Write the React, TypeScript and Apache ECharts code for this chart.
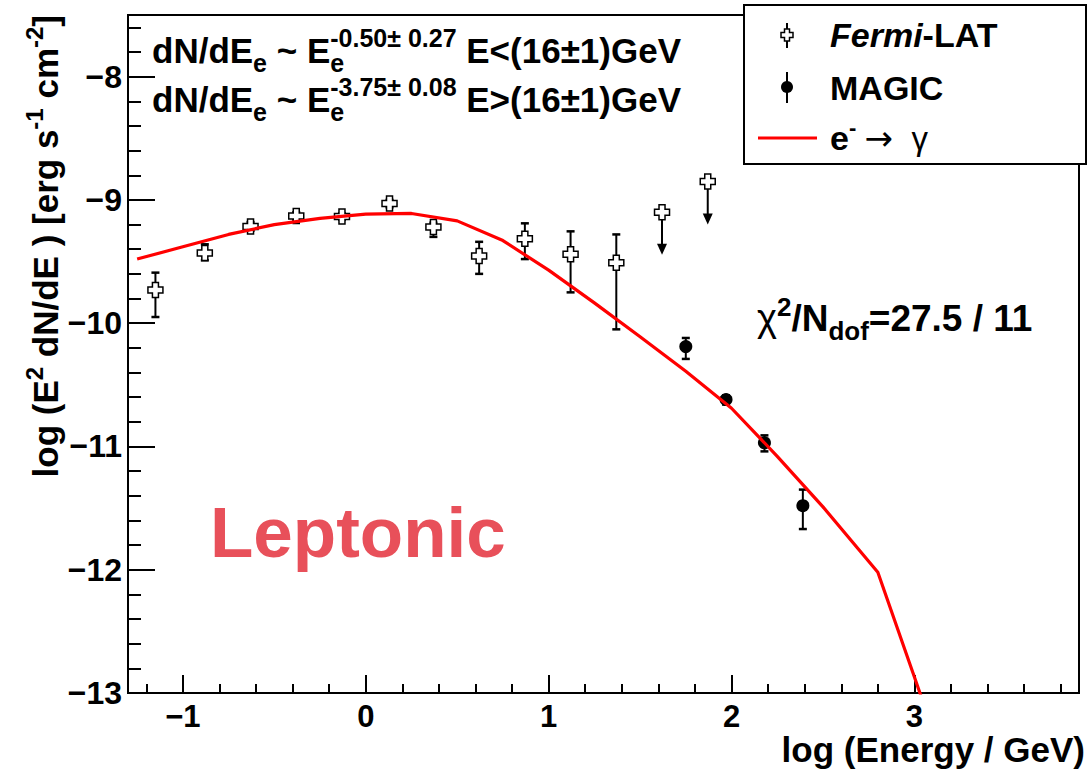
import React, { useEffect, useRef } from 'react';
import * as echarts from 'echarts';

// ---------------- data ----------------
const fermiX = [-1.15, -0.88, -0.63, -0.38, -0.13, 0.13, 0.37, 0.62, 0.87, 1.12, 1.37];
const fermiY = [-9.73, -9.43, -9.215, -9.13, -9.135, -9.03, -9.22, -9.455, -9.315, -9.44, -9.51];
const fermiLow = [-9.95, -9.49, -9.25, -9.16, -9.16, -9.06, -9.30, -9.60, -9.48, -9.75, -10.05];
const fermiHigh = [-9.59, -9.36, -9.18, -9.10, -9.11, -9.00, -9.185, -9.34, -9.19, -9.255, -9.28];

const fermiUlX = [1.62, 1.87];
const fermiUlY = [-9.1, -8.85];
const fermiUlTip = [-9.445, -9.2];

const magicX = [1.75, 1.97, 2.18, 2.39];
const magicY = [-10.19, -10.62, -10.97, -11.48];
const magicLow = [-10.29, -10.66, -11.04, -11.67];
const magicHigh = [-10.12, -10.585, -10.91, -11.35];

const modelX = [-1.25, -1.0, -0.75, -0.5, -0.25, 0.0, 0.25, 0.5, 0.75, 1.0, 1.25, 1.5, 1.75, 2.0, 2.25, 2.5, 2.8, 3.0, 3.1];
const modelY = [-9.48, -9.38, -9.28, -9.2, -9.15, -9.115, -9.11, -9.17, -9.33, -9.57, -9.835, -10.11, -10.39, -10.69, -11.08, -11.49, -12.02, -12.87, -13.3];

const xRange = [-1.3, 3.9];
const yRange = [-13, -7.5];

const FONT = "'Liberation Sans', Arial, Helvetica, sans-serif";

type Seg = {
  t: string;
  size: number;
  dy?: number;
  weight?: string;
  italic?: boolean;
  noAdvance?: boolean;
  fill?: string;
  family?: string;
  lh?: number;
};

let measureCtx: CanvasRenderingContext2D | null = null;
function measure(text: string, font: string) {
  if (!measureCtx) measureCtx = document.createElement('canvas').getContext('2d');
  measureCtx!.font = font;
  return measureCtx!.measureText(text).width;
}
function fontStr(s: Seg) {
  return `${s.italic ? 'italic ' : ''}${s.weight || 'bold'} ${s.size}px ${s.family || FONT}`;
}
function segWidth(segs: Seg[]) {
  let x = 0;
  let pending = 0;
  let pendingStart = -1;
  segs.forEach((s) => {
    const w = measure(s.t, fontStr(s));
    if (s.noAdvance) {
      pending = w;
      pendingStart = x;
    } else if (pendingStart >= 0) {
      x = pendingStart + Math.max(w, pending);
      pendingStart = -1;
    } else {
      x += w;
    }
  });
  return x;
}
function layoutSegs(segs: Seg[], x0: number, baseline: number, align: 'left' | 'right' = 'left', defFill = '#000') {
  const total = segWidth(segs);
  let x = align === 'right' ? x0 - total : x0;
  let pending = 0;
  let pendingStart = -1;
  const els: any[] = [];
  segs.forEach((s) => {
    const w = measure(s.t, fontStr(s));
    const startX = pendingStart >= 0 && !s.noAdvance ? pendingStart : x;
    const yb = baseline + (s.dy || 0);
    els.push({
      type: 'text',
      x: startX,
      y: yb - 0.3465 * s.size,
      style: {
        text: s.t,
        fontSize: s.size,
        fontWeight: s.weight || 'bold',
        fontStyle: s.italic ? 'italic' : 'normal',
        fontFamily: s.family || FONT,
        fill: s.fill || defFill,
        lineHeight: s.lh || Math.round(s.size * 0.9),
        align: 'left',
        verticalAlign: 'middle',
      },
    });
    if (s.noAdvance) {
      pending = w;
      pendingStart = x;
    } else if (pendingStart >= 0) {
      x = pendingStart + Math.max(w, pending);
      pendingStart = -1;
    } else {
      x += w;
    }
  });
  return els;
}

function crossPoints(cx: number, cy: number, a: number, w: number) {
  return [
    [cx - w, cy - a], [cx + w, cy - a], [cx + w, cy - w], [cx + a, cy - w],
    [cx + a, cy + w], [cx + w, cy + w], [cx + w, cy + a], [cx - w, cy + a],
    [cx - w, cy + w], [cx - a, cy + w], [cx - a, cy - w], [cx - w, cy - w],
  ];
}
function errorBar(x: number, yTop: number, yBot: number, cap: number) {
  return [
    { type: 'line', shape: { x1: x, y1: yTop, x2: x, y2: yBot }, style: { stroke: '#000', lineWidth: 2 } },
    { type: 'line', shape: { x1: x - cap, y1: yTop, x2: x + cap, y2: yTop }, style: { stroke: '#000', lineWidth: 2.5 } },
    { type: 'line', shape: { x1: x - cap, y1: yBot, x2: x + cap, y2: yBot }, style: { stroke: '#000', lineWidth: 2.5 } },
  ];
}

function fmtTick(v: number) {
  if (Math.abs(v - Math.round(v)) > 1e-6) return '';
  const r = Math.round(v);
  return r < 0 ? '\u2212' + Math.abs(r) : String(r);
}

function buildOption() {
  const F = 35;
  const S = 25;
  const line1: Seg[] = [
    { t: 'dN/dE', size: F },
    { t: 'e', size: S, dy: 9, lh: 20 },
    { t: ' ~ E', size: F },
    { t: 'e', size: S, dy: 9, noAdvance: true, lh: 20 },
    { t: '-0.50\u00b1 0.27', size: S, dy: -16, lh: 20 },
    { t: ' E<(16\u00b11)GeV', size: F },
  ];
  const line2: Seg[] = [
    { t: 'dN/dE', size: F },
    { t: 'e', size: S, dy: 9, lh: 20 },
    { t: ' ~ E', size: F },
    { t: 'e', size: S, dy: 9, noAdvance: true, lh: 20 },
    { t: '-3.75\u00b1 0.08', size: S, dy: -16, lh: 20 },
    { t: ' E>(16\u00b11)GeV', size: F },
  ];
  const chi: Seg[] = [
    { t: '\u03c7', size: 38, weight: 'normal' },
    { t: '2', size: 26, dy: -15, lh: 20 },
    { t: '/N', size: 37 },
    { t: 'dof', size: 26, dy: 9, lh: 20 },
    { t: '=27.5 / 11', size: 37 },
  ];
  const yTitle: Seg[] = [
    { t: 'log (E', size: 35 },
    { t: '2', size: 24, dy: -15, lh: 20 },
    { t: ' dN/dE ) [erg s', size: 35 },
    { t: '-1', size: 24, dy: -15, lh: 20 },
    { t: ' cm', size: 35 },
    { t: '-2', size: 24, dy: -15, lh: 20 },
    { t: ']', size: 35 },
  ];

  const graphic: any[] = [];
  graphic.push(...layoutSegs(line1, 152, 63));
  graphic.push(...layoutSegs(line2, 152, 112));
  graphic.push(...layoutSegs(chi, 757, 331));
  graphic.push(...layoutSegs([{ t: 'Leptonic', size: 71 }], 210, 557, 'left', '#E8505A'));
  graphic.push(...layoutSegs([{ t: 'log (Energy / GeV)', size: 35, lh: 30 }], 1085, 762, 'right'));
  graphic.push({
    type: 'group',
    x: 58,
    y: 475,
    rotation: Math.PI / 2,
    children: layoutSegs(yTitle, 460, 0, 'right'),
  });

  // legend
  const legendChildren: any[] = [
    { type: 'rect', shape: { x: 744, y: 5, width: 342, height: 159 }, style: { fill: '#fff', stroke: '#000', lineWidth: 2 } },
    { type: 'line', shape: { x1: 787, y1: 23, x2: 787, y2: 48 }, style: { stroke: '#000', lineWidth: 2 } },
    { type: 'polygon', shape: { points: crossPoints(787, 35, 6, 2.5) }, style: { fill: '#fff', stroke: '#000', lineWidth: 1.5 } },
    { type: 'line', shape: { x1: 787, y1: 72, x2: 787, y2: 103 }, style: { stroke: '#000', lineWidth: 2 } },
    { type: 'circle', shape: { cx: 787, cy: 87, r: 6 }, style: { fill: '#000' } },
    { type: 'line', shape: { x1: 758, y1: 138, x2: 817, y2: 138 }, style: { stroke: '#ff0000', lineWidth: 3 } },
    ...layoutSegs([{ t: 'Fermi', size: 34, italic: true }, { t: '-LAT', size: 34 }], 830, 47),
    ...layoutSegs([{ t: 'MAGIC', size: 34 }], 830, 100),
    ...layoutSegs([
      { t: 'e', size: 34 },
      { t: '-', size: 22, dy: -15, lh: 18 },
      { t: ' ', size: 30, weight: 'normal' },
      { t: '\u2192', size: 34, weight: 'normal', family: "'DejaVu Sans', sans-serif" },
      { t: '  \u03b3', size: 33, weight: 'normal' },
    ], 830, 150),
  ];
  graphic.push({ type: 'group', z: 100, children: legendChildren });

  const axisCommon = {
    axisLine: { onZero: false, lineStyle: { color: '#000', width: 2 } },
    splitLine: { show: false },
    axisLabel: {
      color: '#000',
      fontSize: 32,
      fontWeight: 'bold',
      fontFamily: FONT,
      formatter: (v: number) => fmtTick(v),
      showMinLabel: true,
      showMaxLabel: true,
    },
  };

  return {
    animation: false,
    backgroundColor: '#fff',
    grid: {
      left: 128,
      right: 10,
      top: 15,
      bottom: 76,
      show: true,
      borderColor: '#000',
      borderWidth: 2,
      containLabel: false,
      outerBoundsMode: 'none',
    },
    xAxis: {
      type: 'value',
      min: xRange[0],
      max: xRange[1],
      splitNumber: 5,
      ...axisCommon,
      axisLabel: { ...axisCommon.axisLabel, fontSize: 31, margin: 9, lineHeight: 28 },
      axisTick: { inside: true, length: 18, lineStyle: { color: '#000', width: 2 } },
      minorTick: { show: true, splitNumber: 5, length: 9, lineStyle: { color: '#000', width: 2 } },
      minorSplitLine: { show: false },
    },
    yAxis: {
      type: 'value',
      min: yRange[0],
      max: yRange[1],
      interval: 1,
      ...axisCommon,
      axisLabel: { ...axisCommon.axisLabel, margin: 6 },
      axisTick: { inside: true, length: 27, lineStyle: { color: '#000', width: 2 } },
      minorTick: { show: true, splitNumber: 5, length: 13, lineStyle: { color: '#000', width: 2 } },
      minorSplitLine: { show: false },
    },
    graphic,
    series: [
      {
        type: 'line',
        data: modelX.map((x, i) => [x, modelY[i]]),
        symbol: 'none',
        showSymbol: false,
        smooth: false,
        clip: true,
        lineStyle: { color: '#ff0000', width: 3.2 },
        z: 6,
      },
      {
        type: 'custom',
        dimensions: ['x', 'y', 'lo', 'hi'],
        encode: { x: 0, y: 1 },
        data: fermiX.map((x, i) => [x, fermiY[i], fermiLow[i], fermiHigh[i]]),
        z: 5,
        renderItem: (_p: any, api: any) => {
          const p = api.coord([api.value(0), api.value(1)]);
          const lo = api.coord([api.value(0), api.value(2)]);
          const hi = api.coord([api.value(0), api.value(3)]);
          return {
            type: 'group',
            children: [
              ...errorBar(p[0], hi[1], lo[1], 4),
              { type: 'polygon', shape: { points: crossPoints(p[0], p[1], 7.5, 3) }, style: { fill: '#fff', stroke: '#000', lineWidth: 1.5 } },
            ],
          };
        },
      },
      {
        type: 'custom',
        dimensions: ['x', 'y', 'tip'],
        encode: { x: 0, y: 1 },
        data: fermiUlX.map((x, i) => [x, fermiUlY[i], fermiUlTip[i]]),
        z: 5,
        renderItem: (_p: any, api: any) => {
          const p = api.coord([api.value(0), api.value(1)]);
          const t = api.coord([api.value(0), api.value(2)]);
          return {
            type: 'group',
            children: [
              { type: 'line', shape: { x1: p[0], y1: p[1], x2: p[0], y2: t[1] - 8 }, style: { stroke: '#000', lineWidth: 2 } },
              { type: 'polygon', shape: { points: [[p[0] - 5, t[1] - 11], [p[0] + 5, t[1] - 11], [p[0], t[1]]] }, style: { fill: '#000' } },
              { type: 'polygon', shape: { points: crossPoints(p[0], p[1], 7.5, 3) }, style: { fill: '#fff', stroke: '#000', lineWidth: 1.5 } },
            ],
          };
        },
      },
      {
        type: 'custom',
        dimensions: ['x', 'y', 'lo', 'hi'],
        encode: { x: 0, y: 1 },
        data: magicX.map((x, i) => [x, magicY[i], magicLow[i], magicHigh[i]]),
        z: 5,
        renderItem: (_p: any, api: any) => {
          const p = api.coord([api.value(0), api.value(1)]);
          const lo = api.coord([api.value(0), api.value(2)]);
          const hi = api.coord([api.value(0), api.value(3)]);
          return {
            type: 'group',
            children: [
              ...errorBar(p[0], hi[1], lo[1], 4),
              { type: 'circle', shape: { cx: p[0], cy: p[1], r: 6.5 }, style: { fill: '#000' } },
            ],
          };
        },
      },
    ],
  };
}

export default function App() {
  const ref = useRef<HTMLDivElement>(null);
  useEffect(() => {
    document.body.style.margin = '0';
    const chart = echarts.init(ref.current!, undefined, { renderer: 'svg' });
    chart.setOption(buildOption() as any);
    return () => chart.dispose();
  }, []);
  return <div ref={ref} style={{ width: 1089, height: 769, overflow: 'hidden' }} />;
}
